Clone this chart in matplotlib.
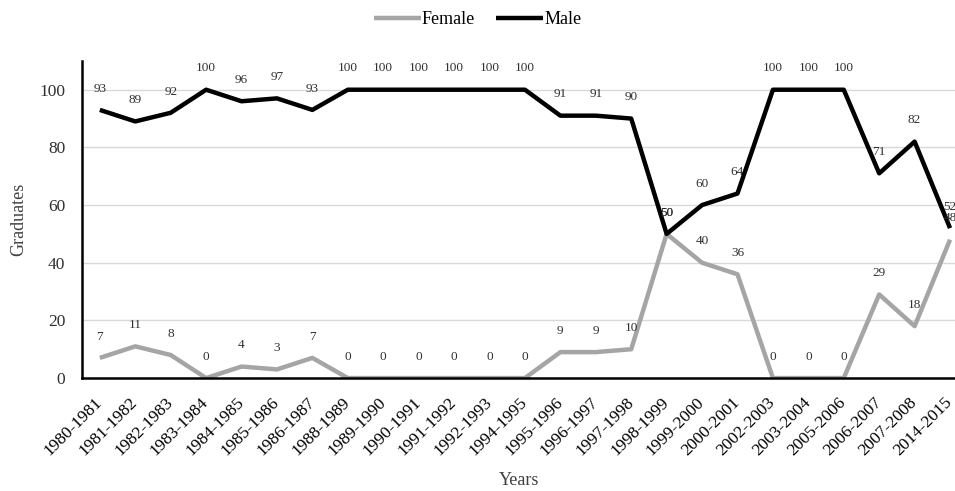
import matplotlib.pyplot as plt
from matplotlib.transforms import ScaledTranslation

plt.rcParams['font.family'] = ['Liberation Serif', 'DejaVu Serif']

years = ['1980-1981', '1981-1982', '1982-1983', '1983-1984', '1984-1985',
         '1985-1986', '1986-1987', '1988-1989', '1989-1990', '1990-1991',
         '1991-1992', '1992-1993', '1994-1995', '1995-1996', '1996-1997',
         '1997-1998', '1998-1999', '1999-2000', '2000-2001', '2002-2003',
         '2003-2004', '2005-2006', '2006-2007', '2007-2008', '2014-2015']
female = [7, 11, 8, 0, 4, 3, 7, 0, 0, 0, 0, 0, 0, 9, 9, 10, 50, 40, 36,
          0, 0, 0, 29, 18, 48]
male = [93, 89, 92, 100, 96, 97, 93, 100, 100, 100, 100, 100, 100, 91, 91,
        90, 50, 60, 64, 100, 100, 100, 71, 82, 52]

fig = plt.figure(figsize=(9.55, 4.91), dpi=100)
ax = fig.add_axes([0.086, 0.23, 0.914, 0.646])

x = range(len(years))
ax.plot(x, female, color='#a5a5a5', lw=3.2, label='Female', solid_capstyle='butt')
ax.plot(x, male, color='black', lw=3.2, label='Male', solid_capstyle='butt')

for i, v in enumerate(female):
    ax.annotate(str(v), (i, v), xytext=(0, 11), textcoords='offset points',
                ha='center', va='bottom', fontsize=9.5, color='#303030')
for i, v in enumerate(male):
    ax.annotate(str(v), (i, v), xytext=(0, 11), textcoords='offset points',
                ha='center', va='bottom', fontsize=9.5, color='#303030')

# last category sits right against the figure edge
ax.set_xlim(-0.5, 24.14)
ax.set_ylim(0, 110)
ax.set_yticks(range(0, 101, 20))
ax.set_xticks(list(x))
ax.set_xticklabels(years, rotation=45, ha='right', va='center',
                   rotation_mode='anchor', fontsize=12.5)
shift = ScaledTranslation(-4 / 100, 0, fig.dpi_scale_trans)
for lbl in ax.get_xticklabels():
    lbl.set_transform(lbl.get_transform() + shift)
ax.tick_params(axis='y', labelsize=12.5, length=0, pad=12, colors='#303030')
ax.tick_params(axis='x', length=0, pad=16, colors='black')
ax.yaxis.grid(True, color='#d9d9d9', lw=1)
ax.set_axisbelow(True)
for s in ['top', 'right']:
    ax.spines[s].set_visible(False)
for s in ['left', 'bottom']:
    ax.spines[s].set_linewidth(1.8)
    ax.spines[s].set_color('black')

ax.set_ylabel('Graduates', fontsize=13, color='#404040', labelpad=9)
ax.set_xlabel('Years', fontsize=13, color='#404040', labelpad=9)

fig.legend(loc='upper center', bbox_to_anchor=(0.5, 1.01), ncol=2, frameon=False,
           fontsize=13, handlelength=2.6, handletextpad=0.05, columnspacing=1.2)

fig.savefig('out.png', dpi=100)
